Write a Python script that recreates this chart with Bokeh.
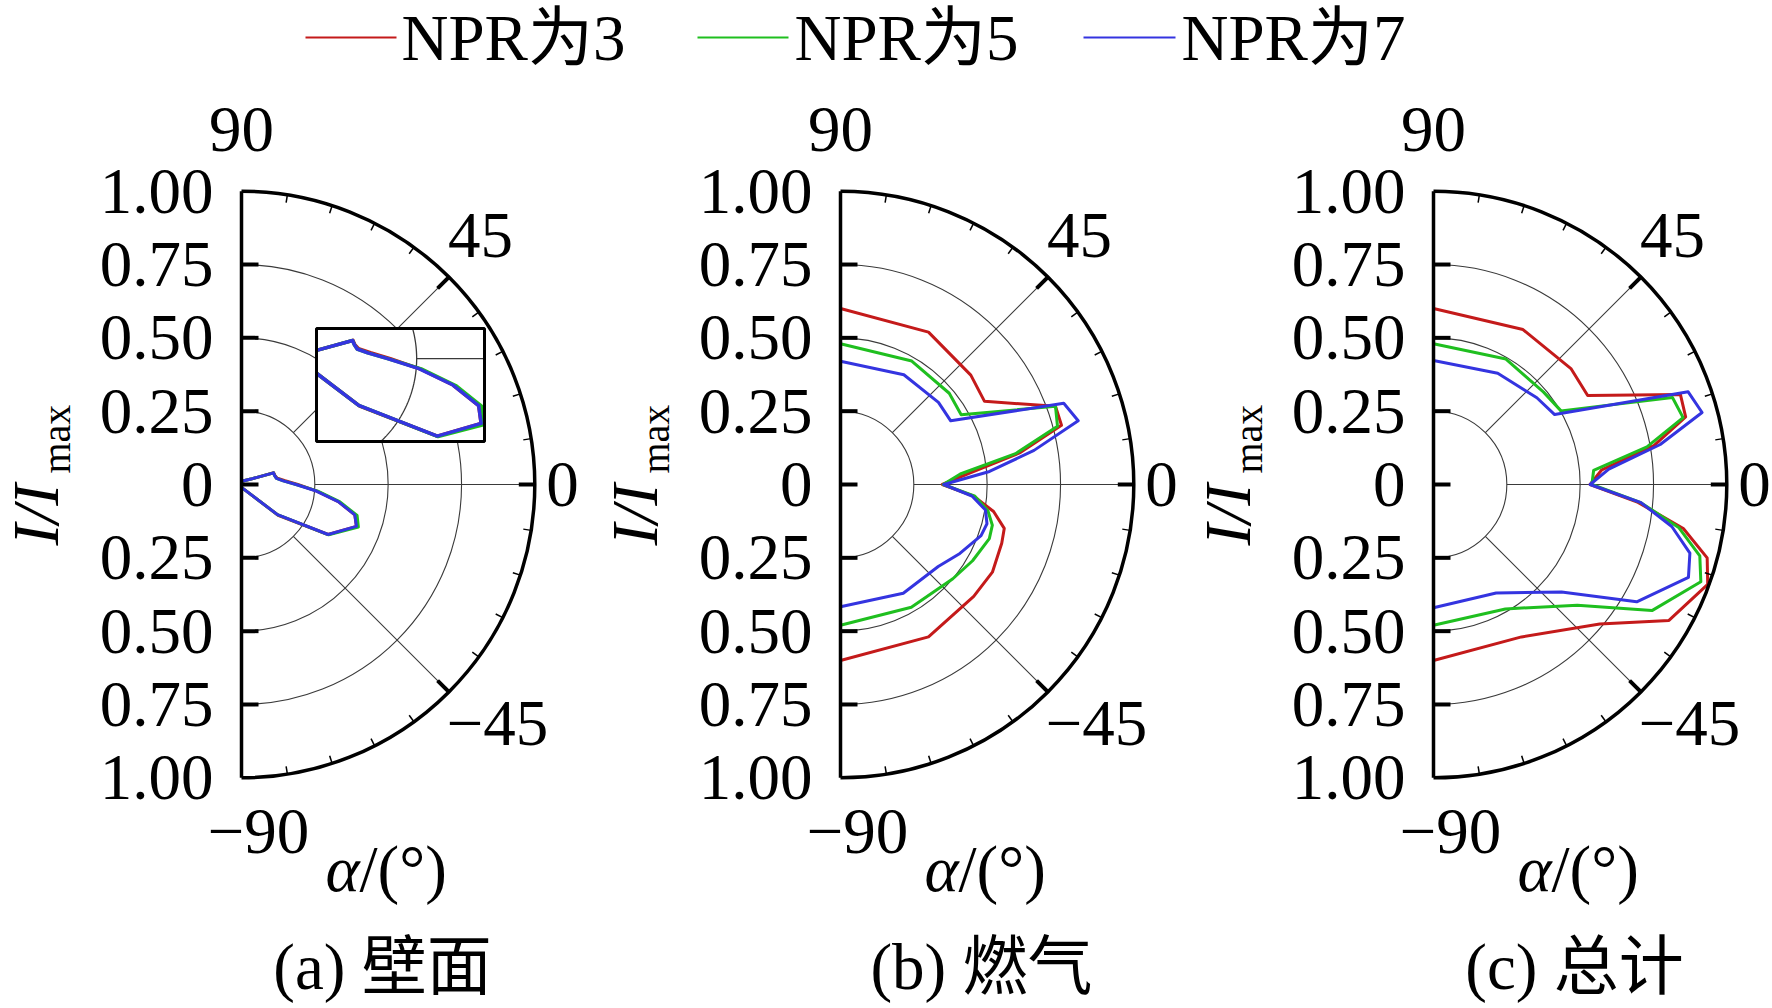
import numpy as np
from bokeh.plotting import figure
from bokeh.models import Range1d
from bokeh.core.properties import value
from bokeh.embed import file_html
from bokeh.resources import INLINE

# ---------------- data ----------------
angles = [90, 60, 40, 30, 20, 15, 10, 5, 0, -5, -10, -15, -20, -30, -40, -60, -90]

wall_npr3 = [0.010, 0.015, 0.024, 0.037, 0.117, 0.118, 0.124, 0.149, 0.192, 0.258, 0.335, 0.400, 0.417, 0.341, 0.163, 0.020, 0.010]
wall_npr5 = [0.010, 0.015, 0.024, 0.037, 0.116, 0.117, 0.121, 0.143, 0.186, 0.261, 0.341, 0.408, 0.424, 0.343, 0.160, 0.020, 0.010]
wall_npr7 = [0.010, 0.015, 0.024, 0.037, 0.116, 0.117, 0.121, 0.143, 0.186, 0.256, 0.335, 0.400, 0.417, 0.341, 0.160, 0.020, 0.010]

gas_npr3 = [0.600, 0.600, 0.580, 0.567, 0.780, 0.780, 0.620, 0.440, 0.347, 0.456, 0.530, 0.578, 0.585, 0.598, 0.593, 0.600, 0.600]
gas_npr5 = [0.480, 0.486, 0.484, 0.475, 0.780, 0.766, 0.606, 0.410, 0.350, 0.460, 0.510, 0.536, 0.540, 0.520, 0.500, 0.483, 0.480]
gas_npr7 = [0.420, 0.432, 0.436, 0.434, 0.810, 0.839, 0.670, 0.510, 0.352, 0.450, 0.502, 0.517, 0.510, 0.470, 0.435, 0.428, 0.417]

total_npr3 = [0.600, 0.610, 0.613, 0.607, 0.896, 0.890, 0.763, 0.576, 0.534, 0.700, 0.865, 0.966, 0.995, 0.927, 0.740, 0.600, 0.600]
total_npr5 = [0.480, 0.494, 0.490, 0.502, 0.867, 0.881, 0.739, 0.548, 0.540, 0.710, 0.850, 0.940, 0.970, 0.860, 0.640, 0.490, 0.480]
total_npr7 = [0.423, 0.438, 0.460, 0.477, 0.924, 0.948, 0.785, 0.600, 0.534, 0.710, 0.825, 0.905, 0.925, 0.800, 0.570, 0.427, 0.420]

series_names = ["NPR为3", "NPR为5", "NPR为7"]
series_colors = ["#c41a1a", "#1fbf1f", "#3434e0"]
panel_captions = ["(a) 壁面", "(b) 燃气", "(c) 总计"]
panel_data = [
    [wall_npr3, wall_npr5, wall_npr7],
    [gas_npr3, gas_npr5, gas_npr7],
    [total_npr3, total_npr5, total_npr7],
]

r_grid = [0.25, 0.5, 0.75]
r_ticks = [1.0, 0.75, 0.5, 0.25, 0.0, -0.25, -0.5, -0.75, -1.0]
r_tick_labels = ["1.00", "0.75", "0.50", "0.25", "0", "0.25", "0.50", "0.75", "1.00"]
angle_labels = ["90", "45", "0", "\u221245", "\u221290"]
major_angles = [45, 0, -45]
minor_angles = [a for a in range(-81, 90, 9) if a not in (0, 45, -45)]

# ---------------- geometry (pixels -> data units) ----------------
PX = 293.3            # pixels per unit radius
W, H = 1772, 1008
OX, OY = 241, 484     # panel (a) centre inside the figure, in pixels


def u(px):
    return px / PX


panel_x = [0.0, u(599), u(1192)]

SERIF = "Liberation Serif"
MIXED = "Liberation Serif, Noto Sans CJK SC"
FS = "65px"

p = figure(width=W, height=H,
           x_range=Range1d(-u(OX), u(W - OX)),
           y_range=Range1d(-u(H - OY), u(OY)),
           output_backend="svg", toolbar_location=None,
           x_axis_location=None, y_axis_location=None, min_border=0)
p.grid.visible = False
p.outline_line_color = None
p.background_fill_color = "white"
p.border_fill_color = "white"


def lb_clip(x0, y0, x1, y1, xmin, xmax, ymin, ymax):
    dx, dy = x1 - x0, y1 - y0
    t0, t1 = 0.0, 1.0
    for pp, q in ((-dx, x0 - xmin), (dx, xmax - x0), (-dy, y0 - ymin), (dy, ymax - y0)):
        if pp == 0:
            if q < 0:
                return None
        else:
            t = q / pp
            if pp < 0:
                if t > t1:
                    return None
                t0 = max(t0, t)
            else:
                if t < t0:
                    return None
                t1 = min(t1, t)
    return t0, t1


def clip_polyline(xs, ys, box):
    runs, cx, cy = [], [], []
    for i in range(len(xs) - 1):
        res = lb_clip(xs[i], ys[i], xs[i + 1], ys[i + 1], *box)
        if res is None:
            if cx:
                runs.append((cx, cy))
                cx, cy = [], []
            continue
        t0, t1 = res
        ax = xs[i] + t0 * (xs[i + 1] - xs[i]); ay = ys[i] + t0 * (ys[i + 1] - ys[i])
        bx = xs[i] + t1 * (xs[i + 1] - xs[i]); by = ys[i] + t1 * (ys[i + 1] - ys[i])
        if cx and t0 > 1e-9:
            runs.append((cx, cy))
            cx, cy = [], []
        if not cx:
            cx, cy = [ax], [ay]
        cx.append(bx); cy.append(by)
        if t1 < 1 - 1e-9:
            runs.append((cx, cy))
            cx, cy = [], []
    if cx:
        runs.append((cx, cy))
    return runs


th = np.deg2rad(np.array(angles, dtype=float))
GRID = "#3a3a3a"

for k in range(3):
    cx = panel_x[k]
    # circular grid
    p.arc(x=[cx] * len(r_grid), y=[0] * len(r_grid), radius=r_grid,
          start_angle=-np.pi / 2, end_angle=np.pi / 2,
          line_color=GRID, line_width=1.1)
    # radial grid
    ga = np.deg2rad(major_angles)
    p.segment(x0=cx + 0.25 * np.cos(ga), y0=0.25 * np.sin(ga),
              x1=cx + np.cos(ga), y1=np.sin(ga), line_color=GRID, line_width=1.1)
    # curves
    for vals, col in zip(panel_data[k], series_colors):
        r = np.array(vals)
        p.line(cx + r * np.cos(th), r * np.sin(th), line_color=col,
               line_width=3, line_join="round")

# ---------------- inset in panel (a) ----------------
box = (0.2557, 0.8285, 0.1466, 0.5319)
Pm = (0.2511, -0.0534)
Qm = (0.5989, 0.3466)
MAG = 1.55


def to_inset(x, y):
    return (Qm[0] + MAG * (np.asarray(x) - Pm[0]), Qm[1] + MAG * (np.asarray(y) - Pm[1]))


p.quad(left=[box[0]], right=[box[1]], bottom=[box[2]], top=[box[3]],
       fill_color="white", line_color=None)
# inset grid: r=0.25 circle and 0 deg radial
tt = np.deg2rad(np.linspace(-90, 90, 361))
gx, gy = to_inset(0.25 * np.cos(tt), 0.25 * np.sin(tt))
for rx, ry in clip_polyline(list(gx), list(gy), box):
    p.line(rx, ry, line_color=GRID, line_width=1.3)
gx, gy = to_inset([0.25, 1.0], [0.0, 0.0])
for rx, ry in clip_polyline(list(gx), list(gy), box):
    p.line(rx, ry, line_color=GRID, line_width=1.3)
for vals, col in zip(panel_data[0], series_colors):
    r = np.array(vals)
    ix, iy = to_inset(r * np.cos(th), r * np.sin(th))
    for rx, ry in clip_polyline(list(ix), list(iy), box):
        p.line(rx, ry, line_color=col, line_width=3.5, line_join="round")
p.quad(left=[box[0]], right=[box[1]], bottom=[box[2]], top=[box[3]],
       fill_color=None, line_color="black", line_width=3)

# ---------------- axes, ticks and labels ----------------
for k in range(3):
    cx = panel_x[k]
    p.segment(x0=[cx], y0=[-1], x1=[cx], y1=[1], line_color="black", line_width=3.5)
    p.arc(x=[cx], y=[0], radius=1.0, start_angle=-np.pi / 2, end_angle=np.pi / 2,
          line_color="black", line_width=3.5)
    # radial ticks on the vertical axis
    rt = [v for v in r_ticks if abs(v) < 1]
    p.segment(x0=[cx] * len(rt), y0=rt, x1=[cx + u(17)] * len(rt), y1=rt,
              line_color="black", line_width=4)
    # angular ticks
    ma = np.deg2rad(major_angles)
    p.segment(x0=cx + np.cos(ma), y0=np.sin(ma),
              x1=cx + (1 - u(16)) * np.cos(ma), y1=(1 - u(16)) * np.sin(ma),
              line_color="black", line_width=4)
    mi = np.deg2rad(minor_angles)
    p.segment(x0=cx + np.cos(mi), y0=np.sin(mi),
              x1=cx + (1 - u(8)) * np.cos(mi), y1=(1 - u(8)) * np.sin(mi),
              line_color="black", line_width=1.5)
    # radial tick labels
    p.text(x=[cx - u(28)] * len(r_ticks), y=r_ticks, text=r_tick_labels,
           text_font=value(SERIF), text_font_size=value(FS),
           text_align="right", text_baseline="middle", text_color="black")
    # angle labels
    ax_off = [(0, 355), (239, 249), (321, 0), (256, -239), (17, -347)]
    p.text(x=[cx + u(o[0]) for o in ax_off], y=[u(o[1]) for o in ax_off],
           text=angle_labels, text_font=value(SERIF), text_font_size=value(FS),
           text_align="center", text_baseline="middle", text_color="black")
    # y title  I/I_max
    p.text(x=[cx + u(-206)], y=[u(-61)], text=["I/I"], angle=np.pi / 2,
           text_font=value(SERIF), text_font_style="italic",
           text_font_size=value(FS), text_align="left",
           text_baseline="middle", text_color="black")
    p.text(x=[cx + u(-185)], y=[u(11)], text=["max"], angle=np.pi / 2,
           text_font=value(SERIF), text_font_size=value("40px"),
           text_align="left", text_baseline="middle", text_color="black")
    # x title  alpha/(deg)
    p.text(x=[cx + u(118)], y=[u(-384)], text=["\u03b1"],
           text_font=value(SERIF), text_font_style="italic",
           text_font_size=value(FS), text_align="right",
           text_baseline="middle", text_color="black")
    p.text(x=[cx + u(118)], y=[u(-384)], text=["/(\u00b0)"],
           text_font=value(SERIF), text_font_size=value(FS), text_align="left",
           text_baseline="middle", text_color="black")
    # caption
    p.text(x=[cx + u(141)], y=[u(-482)], text=[panel_captions[k]],
           text_font=value(MIXED), text_font_size=value(FS),
           text_align="center", text_baseline="middle", text_color="black")

# ---------------- legend ----------------
leg_line_x0 = [305, 697, 1083]
leg_line_x1 = [396, 788, 1175]
leg_text_x = [401, 794, 1181]
ly = u(484 - 37)
for i in range(3):
    p.segment(x0=[u(leg_line_x0[i] - 241)], y0=[ly], x1=[u(leg_line_x1[i] - 241)], y1=[ly],
              line_color=series_colors[i], line_width=1.8)
    p.text(x=[u(leg_text_x[i] - 241)], y=[ly], text=[series_names[i]],
           text_font=value(MIXED), text_font_size=value(FS),
           text_align="left", text_baseline="middle", text_color="black")

open("out.html", "w").write(file_html(p, INLINE))
